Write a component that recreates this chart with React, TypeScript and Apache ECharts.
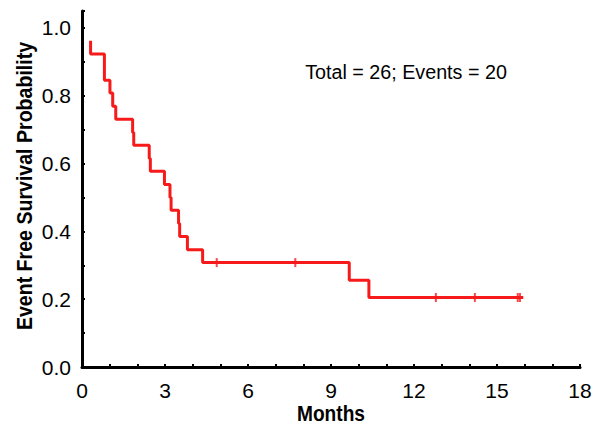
import React, { useEffect, useRef } from "react";
import * as echarts from "echarts";

const kmTimes = [0.31, 0.31, 0.81, 1.01, 1.11, 1.22, 1.83, 1.87, 2.43, 2.47, 2.98, 3.18, 3.22, 3.49, 3.53, 3.81, 4.36, 9.66, 10.37, 15.95];
const kmSurvival = [0.962, 0.923, 0.846, 0.808, 0.769, 0.731, 0.692, 0.654, 0.615, 0.577, 0.538, 0.5, 0.462, 0.423, 0.385, 0.346, 0.308, 0.256, 0.205, 0.205];
const censorTimes = [4.87, 7.71, 12.79, 14.2, 15.75, 15.83];
const censorSurvival = [0.308, 0.308, 0.205, 0.205, 0.205, 0.205];
const annotation = "Total = 26; Events = 20";
const xTitle = "Months";
const yTitle = "Event Free Survival Probability";

const FONT = '"Liberation Sans Narrow", "Liberation Sans", Arial, sans-serif';
const RED = "#f71a1a";

export default function App() {
  const ref = useRef<HTMLDivElement>(null);
  useEffect(() => {
    if (!ref.current) return;
    const chart = echarts.init(ref.current, null, { renderer: "svg" });
    const axisStyle = { lineStyle: { color: "#000", width: 3 } };
    const tickStyle = { show: true, inside: true, length: 3, lineStyle: { color: "#000", width: 2 } };
    chart.setOption({
      animation: false,
      backgroundColor: "#fff",
      grid: { left: 82, right: 21, top: 11, bottom: 69, containLabel: false },
      xAxis: {
        type: "value",
        min: 0,
        max: 18,
        interval: 1,
        axisLine: axisStyle,
        axisTick: tickStyle,
        axisLabel: {
          fontFamily: FONT,
          fontSize: 21,
          color: "#000",
          margin: 13,
          formatter: (v: number) => (Math.round(v) % 3 === 0 ? String(Math.round(v)) : ""),
        },
        splitLine: { show: false },
      },
      yAxis: {
        type: "value",
        min: 0,
        max: 1.05,
        interval: 0.1,
        axisLine: axisStyle,
        axisTick: tickStyle,
        axisLabel: {
          fontFamily: FONT,
          fontSize: 21,
          color: "#000",
          margin: 11,
          formatter: (v: number) => {
            const k = v * 5;
            return Math.abs(k - Math.round(k)) < 1e-6 && v <= 1.0001 ? v.toFixed(1) : "";
          },
        },
        splitLine: { show: false },
      },
      graphic: [
        {
          type: "text",
          x: 406,
          y: 72,
          scaleX: 0.94,
          style: { text: annotation, fontFamily: FONT, fontSize: 21, fill: "#000", align: "center", verticalAlign: "middle" },
        },
        {
          type: "text",
          x: 331,
          y: 413,
          scaleX: 0.87,
          style: { text: xTitle, fontFamily: FONT, fontSize: 22, fontWeight: "bold", fill: "#000", align: "center", verticalAlign: "middle" },
        },
        {
          type: "text",
          x: 24,
          y: 186,
          rotation: Math.PI / 2,
          scaleX: 0.89,
          style: { text: yTitle, fontFamily: FONT, fontSize: 22, fontWeight: "bold", fill: "#000", align: "center", verticalAlign: "middle" },
        },
      ],
      series: [
        {
          type: "line",
          step: "end",
          data: kmTimes.map((t, i) => [t, kmSurvival[i]]),
          showSymbol: false,
          symbol: "none",
          lineStyle: { color: RED, width: 3 },
          z: 3,
        },
        {
          type: "scatter",
          data: censorTimes.map((t, i) => [t, censorSurvival[i]]),
          symbol: "rect",
          symbolSize: [2, 9],
          itemStyle: { color: RED },
          z: 4,
        },
      ],
    });
    return () => chart.dispose();
  }, []);
  return <div ref={ref} style={{ position: "fixed", left: 0, top: 0, width: 601, height: 436 }} />;
}
